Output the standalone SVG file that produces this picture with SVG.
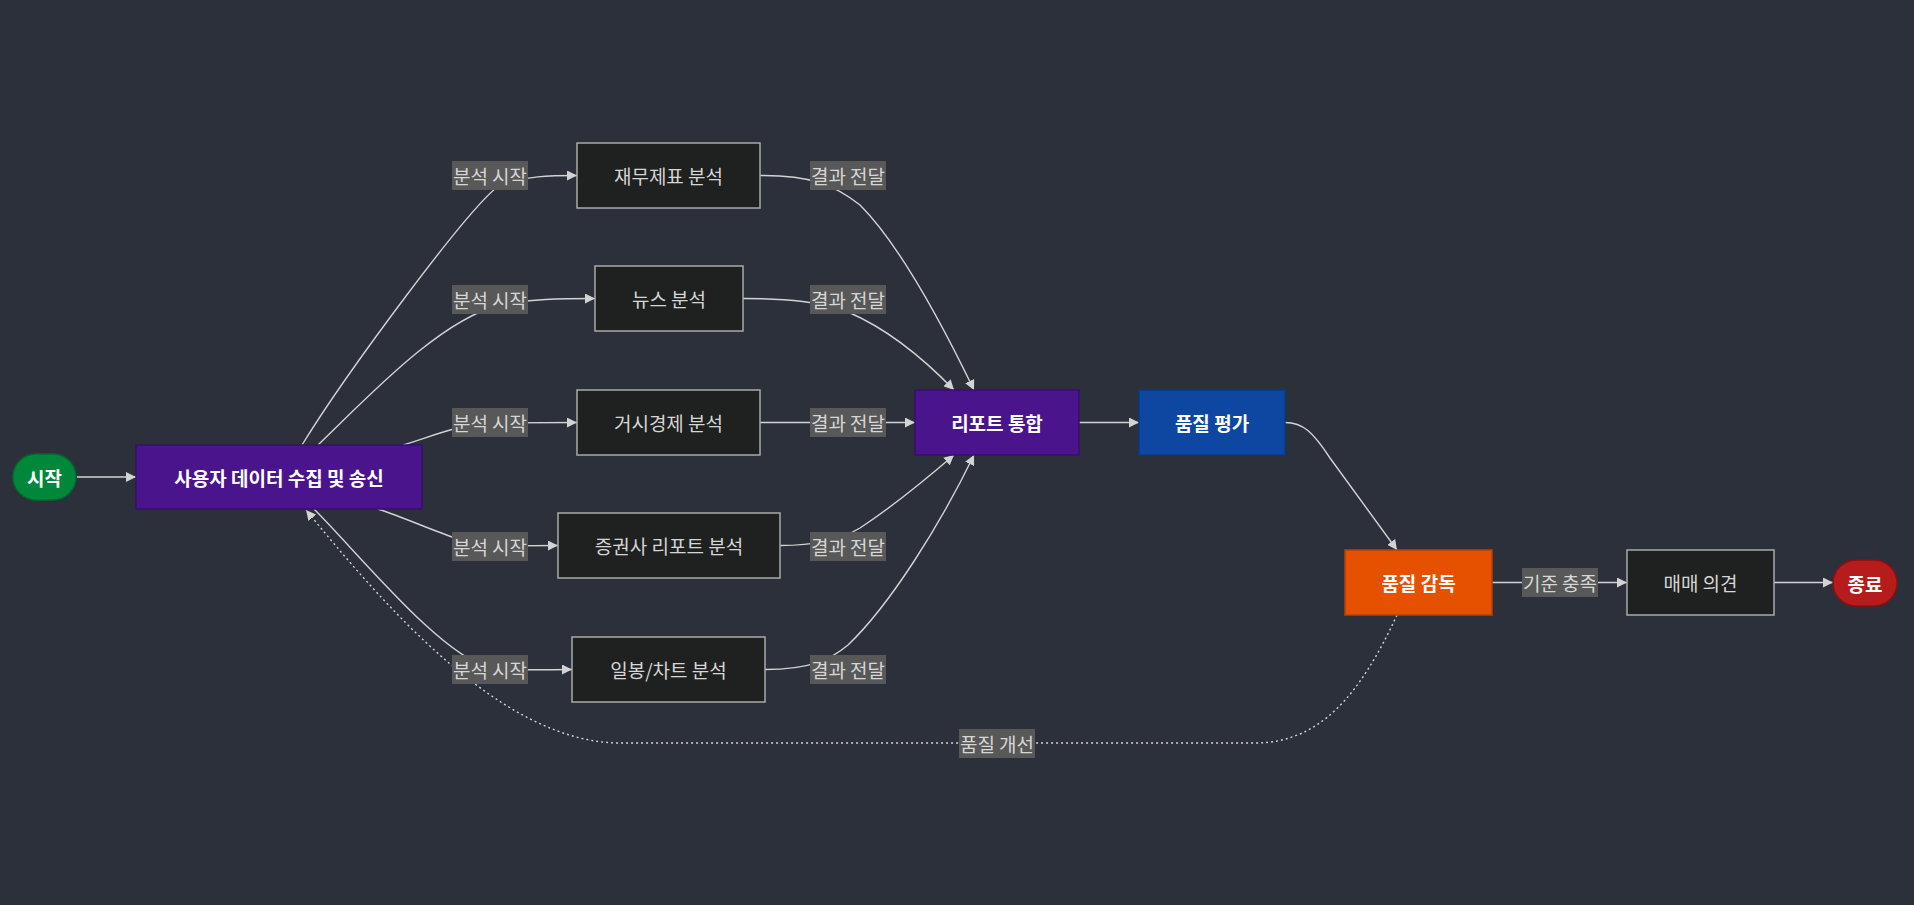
<svg xmlns="http://www.w3.org/2000/svg" width="1914" height="905" viewBox="0 0 1914 905">
<style>
.bg{fill:#2b303b}
text{font-family:"Noto Sans CJK KR","Noto Sans",sans-serif;font-size:19px;text-anchor:middle;dominant-baseline:central}
.n rect{stroke-width:1.5}
.n text{fill:#ffffff;font-weight:bold}
.n.plain rect{fill:#1f2020;stroke:#a9a9a9}
.n.plain text{fill:#d6d6d6;font-weight:normal}
.e{fill:none;stroke:#d3d3d3;stroke-width:1.4}
.dot{stroke-dasharray:2 3}
.lbl rect{fill:#585858}
.lbl text{fill:#d6d6d6}
</style>
<defs>
<marker id="ah" viewBox="0 0 10 10" refX="10" refY="5" markerUnits="userSpaceOnUse" markerWidth="10" markerHeight="10" orient="auto">
<path d="M0,0 L10,5 L0,10 z" fill="#d3d3d3"/>
</marker>
</defs>
<rect class="bg" x="0" y="0" width="1914" height="905"/>
<g id="edges">
<path class="e" marker-end="url(#ah)" d="M77,477 L136,477"/>
<path class="e" marker-end="url(#ah)" d="M302,445 C345,375 470,205 500,185 C525,176 550,175.5 577,175.5"/>
<path class="e" marker-end="url(#ah)" d="M318,445 C370,395 440,320 500,305 C530,299 560,298.5 595,298.5"/>
<path class="e" marker-end="url(#ah)" d="M403,445 C430,437 460,424 490,423 L577,422.5"/>
<path class="e" marker-end="url(#ah)" d="M378,509 C420,523 460,544 490,546 L558,545.5"/>
<path class="e" marker-end="url(#ah)" d="M314,509 C360,555 440,655 490,668 C520,671 545,669.5 572,669.5"/>
<path class="e" marker-end="url(#ah)" d="M760,175.5 C810,175 835,185 860,205 C900,245 945,330 974,390"/>
<path class="e" marker-end="url(#ah)" d="M743,298.5 C790,298.5 820,302 848,312 C890,330 925,360 954,390"/>
<path class="e" marker-end="url(#ah)" d="M760,422.5 L915,422.5"/>
<path class="e" marker-end="url(#ah)" d="M780,545.5 C810,545.5 840,540 860,528 C895,505 925,480 954,455"/>
<path class="e" marker-end="url(#ah)" d="M765,669.5 C810,669.5 830,660 848,645 C890,605 940,525 974,455"/>
<path class="e" marker-end="url(#ah)" d="M1079,422.5 L1139,422.5"/>
<path class="e" marker-end="url(#ah)" d="M1285,422.5 C1303,422.5 1313,432 1330,458 L1397,550"/>
<path class="e" marker-end="url(#ah)" d="M1492,582.5 L1627,582.5"/>
<path class="e" marker-end="url(#ah)" d="M1774,582.5 L1833,582.5"/>
<path class="e dot" marker-end="url(#ah)" d="M1397,615 C1360,695 1320,743 1255,743 L620,743 C500,743 380,600 306,510"/>
</g>
<g id="labels">
<g class="lbl"><rect x="452" y="161" width="76" height="29"/><text x="490" y="175.5">분석 시작</text></g>
<g class="lbl"><rect x="452" y="285" width="76" height="29"/><text x="490" y="299.5">분석 시작</text></g>
<g class="lbl"><rect x="452" y="408" width="76" height="29"/><text x="490" y="422.5">분석 시작</text></g>
<g class="lbl"><rect x="452" y="532" width="76" height="29"/><text x="490" y="546.5">분석 시작</text></g>
<g class="lbl"><rect x="452" y="655" width="76" height="29"/><text x="490" y="669.5">분석 시작</text></g>
<g class="lbl"><rect x="810" y="161" width="76" height="29"/><text x="848" y="175.5">결과 전달</text></g>
<g class="lbl"><rect x="810" y="285" width="76" height="29"/><text x="848" y="299.5">결과 전달</text></g>
<g class="lbl"><rect x="810" y="408" width="76" height="29"/><text x="848" y="422.5">결과 전달</text></g>
<g class="lbl"><rect x="810" y="532" width="76" height="29"/><text x="848" y="546.5">결과 전달</text></g>
<g class="lbl"><rect x="810" y="655" width="76" height="29"/><text x="848" y="669.5">결과 전달</text></g>
<g class="lbl"><rect x="1522" y="568" width="76" height="29"/><text x="1560" y="582.5">기준 충족</text></g>
<g class="lbl"><rect x="959" y="729" width="76" height="29"/><text x="997" y="743.5">품질 개선</text></g>
</g>
<g id="start" class="n"><rect x="13" y="454" width="63" height="46" rx="23" ry="23" fill="#00873a" stroke="#006b2c"/><text x="44.5" y="477">시작</text></g>
<g id="collect" class="n"><rect x="136" y="445" width="286" height="64" fill="#4a148c" stroke="#36106a"/><text x="279" y="477">사용자 데이터 수집 및 송신</text></g>
<g id="fin" class="n plain"><rect x="577" y="143" width="183" height="65"/><text x="668.5" y="175.5">재무제표 분석</text></g>
<g id="news" class="n plain"><rect x="595" y="266" width="148" height="65"/><text x="669" y="298.5">뉴스 분석</text></g>
<g id="macro" class="n plain"><rect x="577" y="390" width="183" height="65"/><text x="668.5" y="422.5">거시경제 분석</text></g>
<g id="broker" class="n plain"><rect x="558" y="513" width="222" height="65"/><text x="669" y="545.5">증권사 리포트 분석</text></g>
<g id="chart" class="n plain"><rect x="572" y="637" width="193" height="65"/><text x="668.5" y="669.5">일봉/차트 분석</text></g>
<g id="merge" class="n"><rect x="915" y="390" width="164" height="65" fill="#4a148c" stroke="#36106a"/><text x="997" y="422.5">리포트 통합</text></g>
<g id="eval" class="n"><rect x="1139" y="390" width="146" height="65" fill="#0d47a1" stroke="#0a3a85"/><text x="1212" y="422.5">품질 평가</text></g>
<g id="supervise" class="n"><rect x="1345" y="550" width="147" height="65" fill="#e65100" stroke="#b84000"/><text x="1418.5" y="582.5">품질 감독</text></g>
<g id="opinion" class="n plain"><rect x="1627" y="550" width="147" height="65"/><text x="1700.5" y="582.5">매매 의견</text></g>
<g id="end" class="n"><rect x="1833" y="560" width="64" height="46" rx="23" ry="23" fill="#b71c1c" stroke="#8b1010"/><text x="1865" y="583">종료</text></g>
</svg>
